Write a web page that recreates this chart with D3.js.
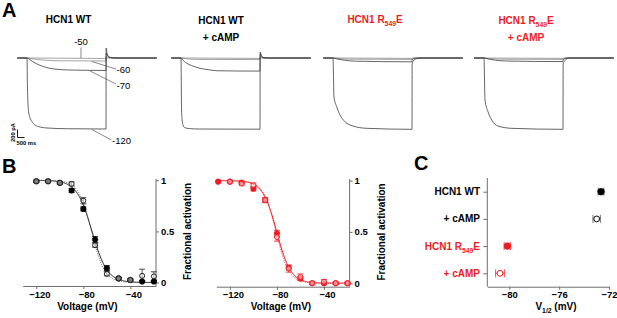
<!DOCTYPE html>
<html><head><meta charset="utf-8">
<script src="https://cdn.jsdelivr.net/npm/d3@7"></script>
<style>body{margin:0;background:#fff}svg{display:block}text{font-family:"Liberation Sans",Arial,Helvetica,sans-serif}</style>
</head><body><svg id="fig" width="617" height="318"></svg>
<script>
// ---------------- DATA ----------------
// Panel A: current traces [time (ms), current (pA)] for the voltage steps
const stepLabels = ["-50", "-60", "-70", "-120"];
const tracesWT = [
  [[-700,0],[0,0],[5600,-12],[5620,0],[9200,0]],
  [[-700,0],[0,0],[300,-15],[800,-40],[1500,-60],[2500,-70],[5600,-75],[5610,40],[5800,5],[6200,0],[9200,0]],
  [[-700,0],[0,0],[200,-40],[500,-110],[900,-180],[1400,-240],[2000,-278],[3000,-300],[4200,-308],[5600,-312],[5610,120],[5800,20],[6300,0],[9200,0]],
  [[-700,0],[0,0],[30,-690],[100,-1300],[210,-1490],[350,-1590],[570,-1675],[920,-1725],[1420,-1750],[2850,-1768],[5600,-1775],[5610,250],[5680,100],[5850,20],[6300,0],[9200,0]]
];
const tracesWTcAMP = [
  [[-700,0],[0,0],[5600,-10],[5620,0],[9200,0]],
  [[-700,0],[0,0],[400,-20],[1200,-35],[5600,-40],[5610,30],[5800,0],[9200,0]],
  [[-700,0],[0,0],[120,-50],[500,-150],[1000,-220],[1350,-258],[2000,-295],[2530,-318],[4000,-325],[5600,-327],[5610,100],[5800,15],[6300,0],[9200,0]],
  [[-700,0],[0,0],[40,-1300],[80,-1550],[140,-1675],[250,-1740],[600,-1765],[1300,-1775],[5600,-1780],[5610,150],[5700,50],[5900,0],[9200,0]]
];
const tracesR549E = [
  [[-700,0],[0,0],[5600,-10],[5620,0],[9200,0]],
  [[-700,0],[0,0],[400,-15],[1200,-30],[5600,-35],[5610,-20],[5800,0],[9200,0]],
  [[-700,0],[0,0],[300,-25],[800,-55],[1600,-80],[5600,-95],[5610,-45],[5800,-10],[6100,0],[9200,0]],
  [[-700,0],[0,0],[70,-975],[262,-1218],[496,-1425],[851,-1593],[1418,-1700],[2390,-1758],[5600,-1783],[5610,-150],[5700,-70],[5900,-20],[6200,0],[9200,0]]
];
const tracesR549EcAMP = [
  [[-700,0],[0,0],[5600,-10],[5620,0],[9200,0]],
  [[-700,0],[0,0],[400,-15],[1200,-30],[5600,-35],[5610,-20],[5800,0],[9200,0]],
  [[-700,0],[0,0],[300,-25],[800,-55],[1600,-75],[5600,-90],[5610,-45],[5800,-10],[6100,0],[9200,0]],
  [[-700,0],[0,0],[70,-1050],[284,-1343],[546,-1550],[993,-1700],[1965,-1758],[5600,-1783],[5610,-150],[5750,-60],[6000,0],[9200,0]]
];
const scaleBarValues = [200, 500];          // pA, ms
const scaleBarLabels = ["200 pA", "500 ms"];

// Panel B: fractional activation
const voltages      = [-130, -120, -110, -100, -90, -80, -70, -60, -50, -40, -30, -20];
const fracWT        = [null, 0.99, 0.99, 0.975, 0.90, 0.72, 0.42, 0.14, 0.04, 0.025, 0.01, 0.01];
const errWT         = [null, 0.01, 0.01, 0.01, 0.02, 0.02, 0.03, 0.025, 0.01, 0.01, 0.01, 0.01];
const fracWTcAMP    = [null, 0.99, 0.99, 0.975, 0.965, 0.80, 0.365, 0.085, 0.04, 0.025, 0.065, 0.06];
const errWTcAMP     = [null, 0.01, 0.01, 0.01, 0.02, 0.03, 0.02, 0.02, 0.01, 0.01, 0.065, 0.045];
const fracR549E     = [0.99, 0.99, 0.98, 0.92, 0.81, 0.485, 0.15, 0.045, 0.0, 0.0, 0.0, 0.0];
const errR549E      = [0.01, 0.01, 0.01, 0.02, 0.02, 0.03, 0.02, 0.02, 0.01, 0.01, 0.01, 0.01];
const fracR549EcAMP = [null, 0.99, 0.97, 0.955, 0.81, 0.45, 0.143, 0.06, 0.0, 0.015, 0.0, 0.0];
const errR549EcAMP  = [null, 0.01, 0.015, 0.02, 0.025, 0.04, 0.035, 0.03, 0.01, 0.02, 0.01, 0.01];
const voltageTicks  = [-120, -80, -40];
const fracTicks     = [0, 0.5, 1];

// Panel C: V1/2 (mV)
const conditions = ["HCN1 WT", "+ cAMP", "HCN1 R549E", "+ cAMP"];
const vHalf      = [-72.64, -72.99, -80.16, -80.75];
const vHalfErr   = [0.23, 0.30, 0.26, 0.35];
const slopeK     = [6.5, 5.5, 6.0, 5.5];
const vHalfTicks = [-80, -76, -72];

// ---------------- DRAWING ----------------
const svg = d3.select("#fig");
const RED = "#ec1c24", AXIS = "#6e6e6e";

function richText(x, y, parts, size, color, anchor) {
  const t = svg.append("text").attr("x", x).attr("y", y).attr("text-anchor", anchor || "middle")
    .attr("font-size", size).attr("font-weight", "bold").attr("fill", color);
  let shifted = false;
  parts.forEach(p => {
    const s = t.append("tspan").text(p.t);
    if (p.sub) { s.attr("font-size", size * 0.68).attr("dy", size * 0.32); shifted = true; }
    else if (shifted) { s.attr("dy", -size * 0.32); shifted = false; }
  });
  return t;
}
const mutantParts = [{t: "HCN1 R"}, {t: "549", sub: true}, {t: "E"}];
function label(x, y, txt, size, opts = {}) {
  return svg.append("text").attr("x", x).attr("y", y).attr("font-size", size)
    .attr("font-weight", opts.weight || "bold").attr("fill", opts.color || "#000")
    .attr("text-anchor", opts.anchor || "start").text(txt);
}

// Panel letters
label(2, 17, "A", 20);
label(2, 173, "B", 20);
label(414, 170, "C", 20);

// ---- Panel A ----
const yA = d3.scaleLinear().domain([0, -1775]).range([58, 129]);
const aPanels = [
  {traces: tracesWT, left: 27, color: "#000", titles: [[{t: "HCN1 WT"}]], cx: 68.5, ys: [23]},
  {traces: tracesWTcAMP, left: 181, color: "#000", titles: [[{t: "HCN1 WT"}], [{t: "+ cAMP"}]], cx: 221, ys: [24, 40.5]},
  {traces: tracesR549E, left: 333, color: RED, titles: [mutantParts], cx: 375, ys: [23]},
  {traces: tracesR549EcAMP, left: 484, color: RED, titles: [mutantParts, [{t: "+ cAMP"}]], cx: 526, ys: [24, 41]}
];
let xA1;
aPanels.forEach((p, pi) => {
  const x = d3.scaleLinear().domain([0, 5600]).range([p.left, p.left + 79]);
  if (pi === 0) xA1 = x;
  const line = d3.line().x(d => x(d[0])).y(d => yA(d[1])).curve(d3.curveMonotoneX);
  p.traces.forEach((tr, i) => {
    svg.append("path").attr("d", line(tr)).attr("fill", "none")
      .attr("stroke", i < 2 ? "#8c8c8c" : "#3c3c3c").attr("stroke-width", 0.8);
  });
  p.titles.forEach((parts, li) => richText(p.cx, p.ys[li], parts, 10, p.color));
});
// step labels and leader lines (panel 1)
const lastI = tr => tr.find(d => d[0] === 5600)[1];
const lead = [
  {i: 0, lx: 81, ly: 45, anchor: "middle"},
  {i: 1, t: 4590, ex: 116, ey: 69, lx: 116.5, ly: 73.3},
  {i: 2, t: 4470, ex: 116, ey: 84, lx: 116.5, ly: 89},
  {i: 3, t: 4590, ex: 111.5, ey: 140, lx: 112, ly: 143.5}
];
lead.forEach(d => {
  if (d.i === 0) {
    svg.append("line").attr("x1", 81).attr("x2", 81).attr("y1", 47.5).attr("y2", yA(0))
      .attr("stroke", "#555").attr("stroke-width", 0.7);
  } else {
    svg.append("line").attr("x1", xA1(d.t)).attr("y1", yA(lastI(tracesWT[d.i])) + 0.5)
      .attr("x2", d.ex).attr("y2", d.ey).attr("stroke", "#555").attr("stroke-width", 0.7);
  }
  label(d.lx, d.ly, stepLabels[d.i], 9.5, {weight: "normal", anchor: d.anchor || "start"});
});
// scale bar
const sbX = 17.5, sbY = 137.5;
svg.append("path").attr("fill", "none").attr("stroke", "#000").attr("stroke-width", 0.9)
  .attr("d", `M${sbX},${sbY - (yA(-scaleBarValues[0]) - yA(0))}V${sbY}H${sbX + (xA1(scaleBarValues[1]) - xA1(0))}`);
svg.append("text").attr("transform", `translate(14.5,${sbY - 5}) rotate(-90)`).attr("text-anchor", "middle")
  .attr("font-size", 5.8).attr("font-weight", "bold").text(scaleBarLabels[0]);
label(16.5, 144.5, scaleBarLabels[1], 5.8);

// ---- Panel B ----
const boltz = (v, vh, k) => 1 / (1 + Math.exp((v - vh) / k));
function drawB(cfg) {
  const x = d3.scaleLinear().domain([-131.6, -18.2]).range([cfg.x0, cfg.x1]);
  const y = d3.scaleLinear().domain([0, 1]).range([cfg.y0, cfg.y1]);
  const g = svg.append("g");
  // axes
  const xa = g.append("g").attr("transform", `translate(0,${cfg.axY})`)
    .call(d3.axisBottom(x).tickValues(voltageTicks).tickSize(3).tickSizeOuter(0).tickPadding(2));
  xa.select(".domain").attr("stroke", AXIS);
  xa.selectAll(".tick line").attr("stroke", AXIS);
  xa.selectAll(".tick text").attr("font-size", 9.5).attr("font-weight", "bold").attr("fill", "#000")
    .attr("font-family", null).attr("dx", 3);
  const ya = g.append("g").attr("transform", `translate(${cfg.x1},0)`)
    .call(d3.axisRight(y).tickValues(fracTicks).tickSize(3).tickPadding(2).tickFormat(d => d === 0.5 ? "0.5" : d3.format("d")(d)));
  ya.select(".domain").remove();
  ya.selectAll(".tick line").attr("stroke", AXIS);
  ya.selectAll(".tick text").attr("font-size", 9.5).attr("font-weight", "bold").attr("fill", "#000").attr("font-family", null);
  g.append("line").attr("x1", cfg.x1).attr("x2", cfg.x1).attr("y1", cfg.y1 - 1.5).attr("y2", cfg.axY).attr("stroke", AXIS);
  g.append("text").attr("x", (cfg.x0 + cfg.x1) / 2 - 2).attr("y", 310).attr("text-anchor", "middle")
    .attr("font-size", 10).attr("font-weight", "bold").text("Voltage (mV)");
  g.append("text").attr("transform", `translate(${cfg.x1 + 35},${(cfg.y0 + cfg.y1) / 2}) rotate(-90)`)
    .attr("text-anchor", "middle").attr("font-size", 10).attr("font-weight", "bold").text("Fractional activation");
  // fits
  const vs = d3.range(cfg.fitStart, -19.9, 0.5);
  cfg.series.forEach(s => {
    g.append("path").attr("fill", "none").attr("stroke", s.lineColor).attr("stroke-width", s.open ? 0.9 : 1)
      .attr("stroke-dasharray", s.open ? "1,1.3" : null)
      .attr("d", d3.line().x(v => x(v)).y(v => y(boltz(v, vHalf[s.fit], slopeK[s.fit])))(vs));
  });
  // points + error bars
  cfg.series.forEach(s => {
    voltages.forEach((v, i) => {
      const f = s.vals[i]; if (f == null) return;
      const e = s.err[i], cx = x(v);
      const p = d3.path();
      p.moveTo(cx, y(f - e)); p.lineTo(cx, y(f + e));
      p.moveTo(cx - 3, y(f - e)); p.lineTo(cx + 3, y(f - e));
      p.moveTo(cx - 3, y(f + e)); p.lineTo(cx + 3, y(f + e));
      g.append("path").attr("d", p.toString()).attr("stroke", s.color).attr("stroke-width", 0.8).attr("fill", "none");
    });
  });
  cfg.series.forEach(s => {
    voltages.forEach((v, i) => {
      const f = s.vals[i]; if (f == null) return;
      g.append("circle").attr("cx", x(v)).attr("cy", y(f)).attr("r", s.open ? 2.5 : 2.8)
        .attr("fill", s.open ? "#fff" : s.color).attr("fill-opacity", s.open ? 0.5 : 1)
        .attr("stroke", s.color).attr("stroke-width", s.open ? 1 : 0.5);
    });
  });
}
drawB({x0: 22.7, x1: 156, y0: 282.5, y1: 180.3, axY: 286, fitStart: -120,
  series: [
    {vals: fracWT, err: errWT, color: "#000", lineColor: "#222", fit: 0, open: false},
    {vals: fracWTcAMP, err: errWTcAMP, color: "#222", lineColor: "#555", fit: 1, open: true}
  ]});
drawB({x0: 216.3, x1: 349.6, y0: 283.2, y1: 180.6, axY: 286.7, fitStart: -130,
  series: [
    {vals: fracR549E, err: errR549E, color: RED, lineColor: RED, fit: 2, open: false},
    {vals: fracR549EcAMP, err: errR549EcAMP, color: RED, lineColor: RED, fit: 3, open: true}
  ]});

// ---- Panel C ----
const xC = d3.scaleLinear().domain([-81.77, -72]).range([487.3, 609]);
const yC = d3.scalePoint().domain(d3.range(conditions.length)).range([191.7, 273.3]);
const cAxY = 286.7;
const xca = svg.append("g").attr("transform", `translate(0,${cAxY})`)
  .call(d3.axisBottom(xC).tickValues(vHalfTicks).tickSize(3).tickSizeOuter(0).tickPadding(2));
xca.select(".domain").attr("stroke", AXIS);
xca.selectAll(".tick line").attr("stroke", AXIS);
xca.selectAll(".tick text").attr("font-size", 9.5).attr("font-weight", "bold").attr("fill", "#000").attr("font-family", null);
const yca = svg.append("g").attr("transform", `translate(${xC.range()[0]},0)`)
  .call(d3.axisLeft(yC).tickSize(4).tickFormat(""));
yca.select(".domain").remove();
yca.selectAll(".tick line").attr("stroke", AXIS);
svg.append("line").attr("x1", xC.range()[0]).attr("x2", xC.range()[0]).attr("y1", 178).attr("y2", cAxY).attr("stroke", AXIS);
conditions.forEach((c, i) => {
  const col = i < 2 ? "#000" : RED;
  const parts = c === "HCN1 R549E" ? mutantParts : [{t: c}];
  richText(480, yC(i) + 3.5, parts, 10, col, "end");
});
richText(556, 310, [{t: "V"}, {t: "1/2", sub: true}, {t: " (mV)"}], 10, "#000");
conditions.forEach((c, i) => {
  const col = i < 2 ? "#000" : RED, cy = yC(i);
  const a = xC(vHalf[i] - vHalfErr[i]), b = xC(vHalf[i] + vHalfErr[i]);
  svg.append("path").attr("fill", "none").attr("stroke", i < 2 ? "#555" : RED).attr("stroke-width", 0.8)
    .attr("d", `M${a},${cy}H${b}M${a},${cy - 4}V${cy + 4}M${b},${cy - 4}V${cy + 4}`);
  const open = i % 2 === 1;
  svg.append("circle").attr("cx", xC(vHalf[i])).attr("cy", cy).attr("r", open ? 2.9 : 3.4)
    .attr("fill", open ? "#fff" : col).attr("stroke", col).attr("stroke-width", open ? 1 : 0.5);
});
</script></body></html>
